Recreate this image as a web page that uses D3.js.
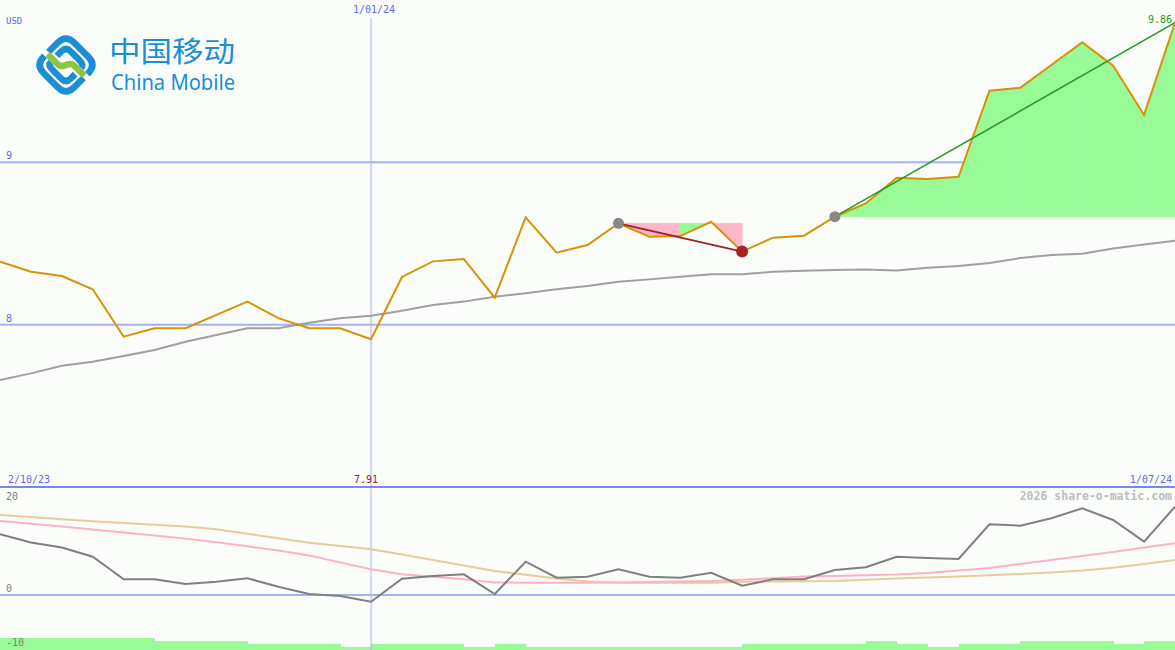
<!DOCTYPE html>
<html><head><meta charset="utf-8">
<script src="https://cdn.jsdelivr.net/npm/d3@7"></script>
<style>html,body{margin:0;padding:0;background:#fbfdfb;overflow:hidden}</style>
</head><body><svg id="c" width="1175" height="650"></svg>
<script>
// ---- data ----
const price = [8.388, 8.326, 8.30, 8.218, 7.926, 7.978, 7.978, 8.06, 8.142, 8.04,
  7.978, 7.978, 7.91, 8.294, 8.39, 8.405, 8.166, 8.661, 8.443, 8.491,
  8.624, 8.542, 8.546, 8.634, 8.45, 8.536, 8.548, 8.665, 8.747, 8.905,
  8.897, 8.911, 9.441, 9.46, 9.60, 9.739, 9.595, 9.292, 9.86];
const movingAvg = [7.659, 7.70, 7.747, 7.772, 7.807, 7.844, 7.895, 7.936, 7.978, 7.978,
  8.012, 8.039, 8.055, 8.086, 8.121, 8.142, 8.172, 8.193, 8.218, 8.238,
  8.265, 8.279, 8.295, 8.31, 8.31, 8.326, 8.332, 8.337, 8.34, 8.334,
  8.35, 8.362, 8.38, 8.41, 8.429, 8.437, 8.469, 8.494, 8.517];
const oscGrey = [12.3, 10.6, 9.6, 7.74, 3.17, 3.17, 2.22, 2.69, 3.37, 1.68,
  0.2, -0.2, -1.35, 3.3, 3.84, 4.18, 0.2, 6.73, 3.5, 3.7,
  5.19, 3.7, 3.5, 4.5, 1.88, 3.17, 3.17, 5.05, 5.6, 7.74,
  7.47, 7.27, 14.28, 14.0, 15.5, 17.5, 15.15, 10.77, 17.84];
const oscPink = [14.95, 14.38, 13.82, 13.25, 12.65, 12.02, 11.39, 10.67, 9.84, 9.01,
  8.0, 6.59, 5.19, 4.18, 3.68, 3.17, 2.53, 2.48, 2.48, 2.48,
  2.53, 2.63, 2.73, 2.83, 3.07, 3.37, 3.72, 3.86, 4.0, 4.14,
  4.44, 4.95, 5.45, 6.26, 7.07, 7.88, 8.69, 9.6, 10.44];
const oscTan = [16.16, 15.74, 15.31, 14.89, 14.53, 14.18, 13.84, 13.27, 12.38, 11.47,
  10.57, 9.9, 9.23, 8.18, 7.07, 5.96, 4.85, 4.08, 3.31, 2.73,
  2.48, 2.48, 2.48, 2.48, 2.67, 2.73, 2.79, 2.85, 3.07, 3.33,
  3.54, 3.74, 4.0, 4.24, 4.55, 4.95, 5.52, 6.26, 7.07];
const volume = [3.9, 3.9, 3.9, 3.9, 3.9, 3.0, 3.0, 3.0, 2.0, 2.0,
  2.0, 1.1, 2.0, 2.0, 2.0, 1.1, 2.0, 0.9, 0.9, 0.9,
  0.9, 0.9, 0.9, 0.9, 2.0, 2.0, 2.0, 2.0, 3.0, 2.0,
  1.1, 2.0, 2.0, 3.0, 3.0, 3.0, 2.0, 3.0, 2.0];
const priceTicks = [9, 8];
const oscTicks = [20, 0, -10];
const dateLabels = ["2/10/23", "1/01/24", "1/07/24"];
const dateIdx = [0, 12, 38];
const zoneStart = [20, 27];
const zoneEnd = [24, 38];
const pinkSegments = [20, 21, 23];
const markerGrey = [20, 27];
const markerRed = [24];

// ---- scales ----
const W = 1175, H = 650;
const svg = d3.select("#c");
const x = d3.scaleLinear().domain([0, price.length - 1]).range([0, W]);
const y = d3.scaleLinear().domain([7, 10]).range([487, 0]);
const yo = d3.scaleLinear().domain([-10, 20]).range([644.5, 496]);
const yv = d3.scaleLinear().domain([0, 4]).range([650, 638]);
const mono = "'DejaVu Sans Mono', 'Liberation Mono', monospace";
const blueTxt = "#5c6cf0", gridC = "#a4b2f2";

svg.append("rect").attr("width", W).attr("height", H).attr("fill", "#fbfdfb");

// volume bars
svg.append("g").attr("shape-rendering", "crispEdges").selectAll("rect").data(volume).join("rect")
  .attr("x", (d, i) => x(i)).attr("width", (d, i) => x(i + 1) - x(i) + 0.5)
  .attr("y", d => yv(d)).attr("height", d => 650 - yv(d)).attr("fill", "#98fb98");

// grid
svg.append("g").selectAll("line").data(priceTicks).join("line")
  .attr("x1", 0).attr("x2", W).attr("y1", d => y(d)).attr("y2", d => y(d))
  .attr("stroke", gridC).attr("stroke-width", 2);
svg.append("line").attr("x1", 0).attr("x2", W).attr("y1", yo(0)).attr("y2", yo(0))
  .attr("stroke", gridC).attr("stroke-width", 2);
svg.append("line").attr("x1", x(dateIdx[1])).attr("x2", x(dateIdx[1])).attr("y1", 18).attr("y2", H)
  .attr("stroke", gridC).attr("stroke-width", 1);
svg.append("line").attr("x1", 0).attr("x2", W).attr("y1", 487).attr("y2", 487)
  .attr("stroke", "#7a88ec").attr("stroke-width", 2);

// fills
zoneStart.forEach((s, z) => {
  const base = price[s];
  for (let i = s; i < zoneEnd[z]; i++) {
    const seg = [i, i + 1];
    const col = pinkSegments.includes(i) ? "#ffb6c8" : "#98fb98";
    const area = d3.area().x(d => x(d)).y0(y(base)).y1(d => y(price[d]));
    svg.append("path").attr("d", area(seg))
      .attr("fill", col).attr("stroke", col).attr("stroke-width", 0.8);
  }
});

// lines
const line = arr => d3.line().x((d, i) => x(i)).y(d => y(d))(arr);
svg.append("path").attr("d", line(movingAvg)).attr("fill", "none").attr("stroke", "#a0a0a0").attr("stroke-width", 2);
svg.append("path").attr("d", line(price)).attr("fill", "none").attr("stroke", "#d99105").attr("stroke-width", 2);

const oline = arr => d3.line().x((d, i) => x(i)).y(d => yo(d))(arr);
svg.append("path").attr("d", oline(oscTan)).attr("fill", "none").attr("stroke", "#e6cc9c").attr("stroke-width", 2);
svg.append("path").attr("d", oline(oscPink)).attr("fill", "none").attr("stroke", "#ffb0c6").attr("stroke-width", 2);
svg.append("path").attr("d", oline(oscGrey)).attr("fill", "none").attr("stroke", "#808080").attr("stroke-width", 2);

// trend lines
svg.append("line").attr("x1", x(zoneStart[0])).attr("y1", y(price[zoneStart[0]]))
  .attr("x2", x(zoneEnd[0])).attr("y2", y(price[zoneEnd[0]]))
  .attr("stroke", "#a32020").attr("stroke-width", 2);
svg.append("line").attr("x1", x(zoneStart[1])).attr("y1", y(price[zoneStart[1]]))
  .attr("x2", x(zoneEnd[1])).attr("y2", y(price[zoneEnd[1]]))
  .attr("stroke", "#229922").attr("stroke-width", 1.5);

// markers
svg.append("g").selectAll("circle").data(markerGrey).join("circle")
  .attr("cx", d => x(d)).attr("cy", d => y(price[d])).attr("r", 5.5).attr("fill", "#888");
svg.append("g").selectAll("circle").data(markerRed).join("circle")
  .attr("cx", d => x(d)).attr("cy", d => y(price[d])).attr("r", 6).attr("fill", "#a82222");

// text
const txt = (t, px, py, anchor, col, size, weight) => svg.append("text").text(t)
  .attr("x", px).attr("y", py).attr("text-anchor", anchor || "start")
  .attr("fill", col).attr("font-family", mono).attr("font-size", size || 10)
  .attr("font-weight", weight || "normal");
txt("USD", 6, 24, "start", blueTxt, 9);
priceTicks.forEach(t => txt(String(t), 6, y(t) - 3, "start", blueTxt, 10));
txt(dateLabels[1], x(dateIdx[1]) + 3, 13, "middle", blueTxt, 10);
txt(dateLabels[0], 8, 483, "start", blueTxt, 10);
txt(dateLabels[2], W - 3, 483, "end", blueTxt, 10);
txt(price[12].toFixed(2), x(12) - 5, 483, "middle", "#a02020", 10);
txt(price[38].toFixed(2), W - 3, 23, "end", "#229922", 10);
txt(String(oscTicks[0]), 6, 500, "start", "#808080", 10);
txt(String(oscTicks[1]), 6, 592, "start", "#808080", 10);
txt(String(oscTicks[2]), 6, 646, "start", "#808080", 10);
txt("2026 share-o-matic.com", W - 3, 500, "end", "#bdbdbd", 11.5, "bold");

// logo
const logo = svg.append("g");
const g = logo.append("g").attr("transform", "translate(66,65) rotate(45) scale(1.08)");
const blue = "#1a8ed6", green = "#8cc63e";
const bands = [
  ["M -20,3 L -20,-9 Q -20,-20 -9,-20 L 9,-20 Q 20,-20 20,-9 L 20,-8", blue],
  ["M -12,0 L -12,-6 Q -12,-12 -6,-12 L 5,-12 Q 12,-12 12,-8", blue],
  ["M 20,-3 L 20,9 Q 20,20 9,20 L -9,20 Q -20,20 -20,9 L -20,8", blue],
  ["M 12,0 L 12,6 Q 12,12 6,12 L -5,12 Q -12,12 -12,8", blue],
  ["M -19,5 L -6,5 Q -2,5 0,0 Q 2,-5 6,-5 L 19,-5", green]
];
bands.forEach(b => g.append("path").attr("d", b[0]).attr("fill", "none")
  .attr("stroke", b[1]).attr("stroke-width", 6).attr("stroke-linecap", "butt"));
logo.append("text").text("中国移动").attr("x", 109).attr("y", 62)
  .attr("font-family", "'Noto Sans CJK SC'").attr("font-size", 28).attr("fill", blue)
  .attr("textLength", 126).attr("lengthAdjust", "spacingAndGlyphs");
logo.append("text").text("China Mobile").attr("x", 111).attr("y", 90)
  .attr("font-family", "'Noto Sans', 'Open Sans', sans-serif").attr("font-size", 21).attr("fill", blue)
  .attr("textLength", 124).attr("lengthAdjust", "spacingAndGlyphs");
</script></body></html>
